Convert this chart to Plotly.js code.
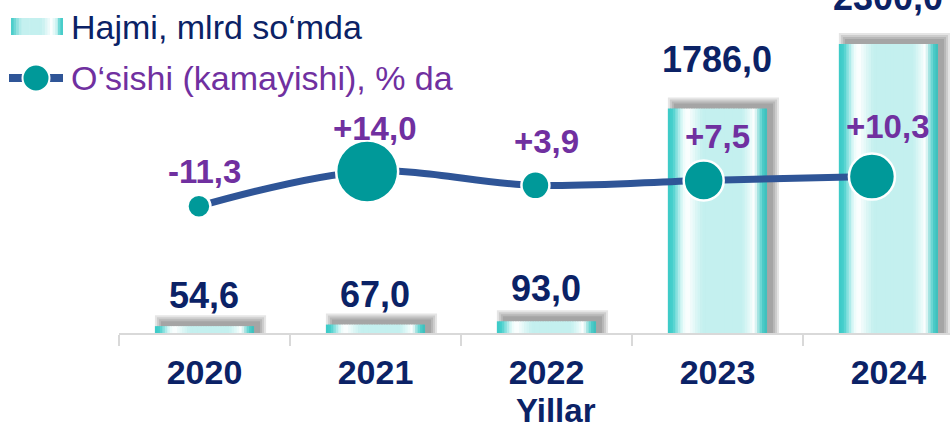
<!DOCTYPE html>
<html><head><meta charset="utf-8">
<script src="https://cdn.plot.ly/plotly-3.0.1.min.js"></script>
<style>html,body{margin:0;padding:0;background:#fff}#chart{width:950px;height:429px}</style>
</head><body><div id="chart"></div>
<script>
// ---- data ----
const years = ['2020', '2021', '2022', '2023', '2024'];
const volume = [54.6, 67.0, 93.0, 1786.0, 2300.0];
const growth = [-11.3, 14.0, 3.9, 7.5, 10.3];
const volumeName = 'Hajmi, mlrd so‘mda';
const growthName = 'O‘sishi (kamayishi), % da';
const axisTitle = 'Yillar';

// ---- style ----
const markerSizes = [23, 62, 28, 40, 46];
const volLabelLift = [31, 30, 33, 49, 46];
const growthLabelLift = [35, 43, 44, 44, 50];
const NAVY = '#0b2266', PURPLE = '#7030a0', LINE = '#2f5597', TEAL = '#009999';
const FONT = 'Liberation Sans, Arial, sans-serif';
const W = 950, H = 429, ML = 119, MR = 0, MT = 0, MB = 96;
const PW = W - ML - MR, PH = H - MT - MB;
const xRange = [-0.5, 4.36], yRange = [0, 2650];
const x2Range = [-0.475, 4.464], y2Range = [-103.3, 138.5];
const pxPerCat = PW / (xRange[1] - xRange[0]);
const unitsPerPx = (yRange[1] - yRange[0]) / PH;
const BW = 0.58;

const fmt = v => v.toFixed(1).replace('.', ',');
const fmtSigned = v => (v > 0 ? '+' : '') + fmt(v);

function hex2rgb(h){h=h.replace('#','');return [0,2,4].map(i=>parseInt(h.substr(i,2),16));}
function gradAt(stops, t){
  for (let i=1;i<stops.length;i++){
    if (t <= stops[i][0]){
      const [t0,c0]=stops[i-1],[t1,c1]=stops[i];
      const f=(t-t0)/(t1-t0||1), a=hex2rgb(c0), b=hex2rgb(c1);
      return 'rgb('+a.map((v,k)=>Math.round(v+(b[k]-v)*f)).join(',')+')';
    }
  }
  return stops[stops.length-1][1];
}
const barStops = [[0,'#3cc9c6'],[0.05,'#45cfcc'],[0.10,'#9be6e4'],[0.15,'#e8fbfa'],[0.20,'#ffffff'],
  [0.27,'#e2f8f7'],[0.35,'#c4f0ef'],[0.75,'#c4f0ef'],[0.83,'#e8faf9'],[0.87,'#ffffff'],
  [0.91,'#a8e4e2'],[0.95,'#4fcfcc'],[1,'#3bbdba']];
const legStops = [[0,'#3cc9c6'],[0.12,'#8fe0de'],[0.2,'#c4f0ef'],[0.6,'#c4f0ef'],[0.78,'#ffffff'],
  [0.88,'#c8f1f0'],[0.94,'#5ad2cf'],[1,'#3cc9c6']];

const traces = [];
// soft shadows (offset right / up, layered for blur)
[6,4,2,0].forEach(e => {
  traces.push({type:'bar', x: years, y: volume.map(v => v + (5 + e) * unitsPerPx),
    width: (BW * pxPerCat + 2 * e) / pxPerCat,
    offset: (-BW / 2 * pxPerCat + 6 - e) / pxPerCat,
    marker: {color: 'rgba(0,0,0,0.1)', line: {width: 0}},
    hoverinfo: 'skip', showlegend: false});
});
// gradient bar strips
const N = 40;
for (let k = 0; k < N; k++) {
  const w = BW / N;
  traces.push({type:'bar', name: k === 0 ? volumeName : undefined, x: years, y: volume,
    width: k === N - 1 ? w : w * 1.3, offset: -BW / 2 + k * w,
    marker: {color: gradAt(barStops, (k + 0.5) / N), line: {width: 0}},
    hoverinfo: k === 0 ? 'x+y' : 'skip', showlegend: false});
}
// growth line
traces.push({type:'scatter', mode:'lines+markers', name: growthName, x: years, y: growth,
  xaxis: 'x2', yaxis: 'y2',
  line: {color: LINE, width: 7, shape: 'spline', smoothing: 1},
  marker: {color: TEAL, size: markerSizes, opacity: 1, line: {color: '#ffffff', width: 2.5}},
  showlegend: false, cliponaxis: false});

const annotations = [];
years.forEach((yr, i) => {
  annotations.push({xref:'x', yref:'y', x: i, y: volume[i], yshift: volLabelLift[i],
    text: fmt(volume[i]), showarrow: false,
    font: {family: FONT, size: 36, color: NAVY, weight: 'bold'}});
  annotations.push({xref:'x', yref:'y2', x: i, y: growth[i], yshift: growthLabelLift[i],
    text: fmtSigned(growth[i]), showarrow: false,
    font: {family: FONT, size: 33, color: PURPLE, weight: 'bold'}});
});

// manual legend and axis title (paper coords from pixel helpers)
const px = p => (p - ML) / PW, py = p => 1 - (p - MT) / PH;
const shapes = [];
const LN = 20, lx0 = 11, lx1 = 63;
for (let k = 0; k < LN; k++) {
  const a = lx0 + (lx1 - lx0) * k / LN, b = lx0 + (lx1 - lx0) * (k + 1) / LN + (k < LN - 1 ? 0.6 : 0);
  shapes.push({type:'rect', xref:'paper', yref:'paper', x0: px(a), x1: px(b), y0: py(35), y1: py(18),
    fillcolor: gradAt(legStops, (k + 0.5) / LN), line: {width: 0}, layer: 'above'});
}
shapes.push({type:'line', xref:'paper', yref:'paper', x0: px(9), x1: px(63), y0: py(78), y1: py(78),
  line: {color: LINE, width: 8}, layer: 'above'});
shapes.push({type:'circle', xref:'paper', yref:'paper', x0: px(22.5), x1: px(49.5), y0: py(91.5), y1: py(64.5),
  fillcolor: TEAL, line: {color: '#ffffff', width: 2}, layer: 'above'});
annotations.push({xref:'paper', yref:'paper', x: px(69), y: py(27), xanchor:'left', yanchor:'middle',
  text: volumeName, showarrow: false, font: {family: FONT, size: 34, color: NAVY}});
annotations.push({xref:'paper', yref:'paper', x: px(69), y: py(78), xanchor:'left', yanchor:'middle',
  text: growthName, showarrow: false, font: {family: FONT, size: 34, color: PURPLE}});
annotations.push({xref:'paper', yref:'paper', x: px(556), y: py(410), xanchor:'center', yanchor:'middle',
  text: axisTitle, showarrow: false, borderpad: 0, font: {family: FONT, size: 33, color: NAVY, weight: 'bold'}});

const layout = {
  width: W, height: H, margin: {l: ML, r: MR, t: MT, b: MB, pad: 0},
  paper_bgcolor: '#ffffff', plot_bgcolor: 'rgba(0,0,0,0)',
  barmode: 'overlay', showlegend: false,
  font: {family: FONT},
  xaxis: {type: 'category', categoryorder: 'array', categoryarray: years, range: xRange,
    showline: true, linecolor: '#d9d9d9', linewidth: 2, showgrid: false, zeroline: false,
    ticks: 'outside', tickson: 'boundaries', ticklen: 11, tickwidth: 2, tickcolor: '#d9d9d9',
    ticklabelstandoff: 8,
    tickfont: {family: FONT, size: 34, color: NAVY, weight: 'bold'},
    automargin: false, fixedrange: true},
  yaxis: {range: yRange, visible: false, showgrid: false, zeroline: false, fixedrange: true},
  xaxis2: {overlaying: 'x', type: 'category', categoryorder: 'array', categoryarray: years,
    range: x2Range, visible: false, showgrid: false, zeroline: false, fixedrange: true},
  yaxis2: {overlaying: 'y', range: y2Range, visible: false, showgrid: false, zeroline: false, fixedrange: true},
  shapes: shapes, annotations: annotations
};
Plotly.newPlot('chart', traces, layout, {displayModeBar: false, staticPlot: true});
</script></body></html>
